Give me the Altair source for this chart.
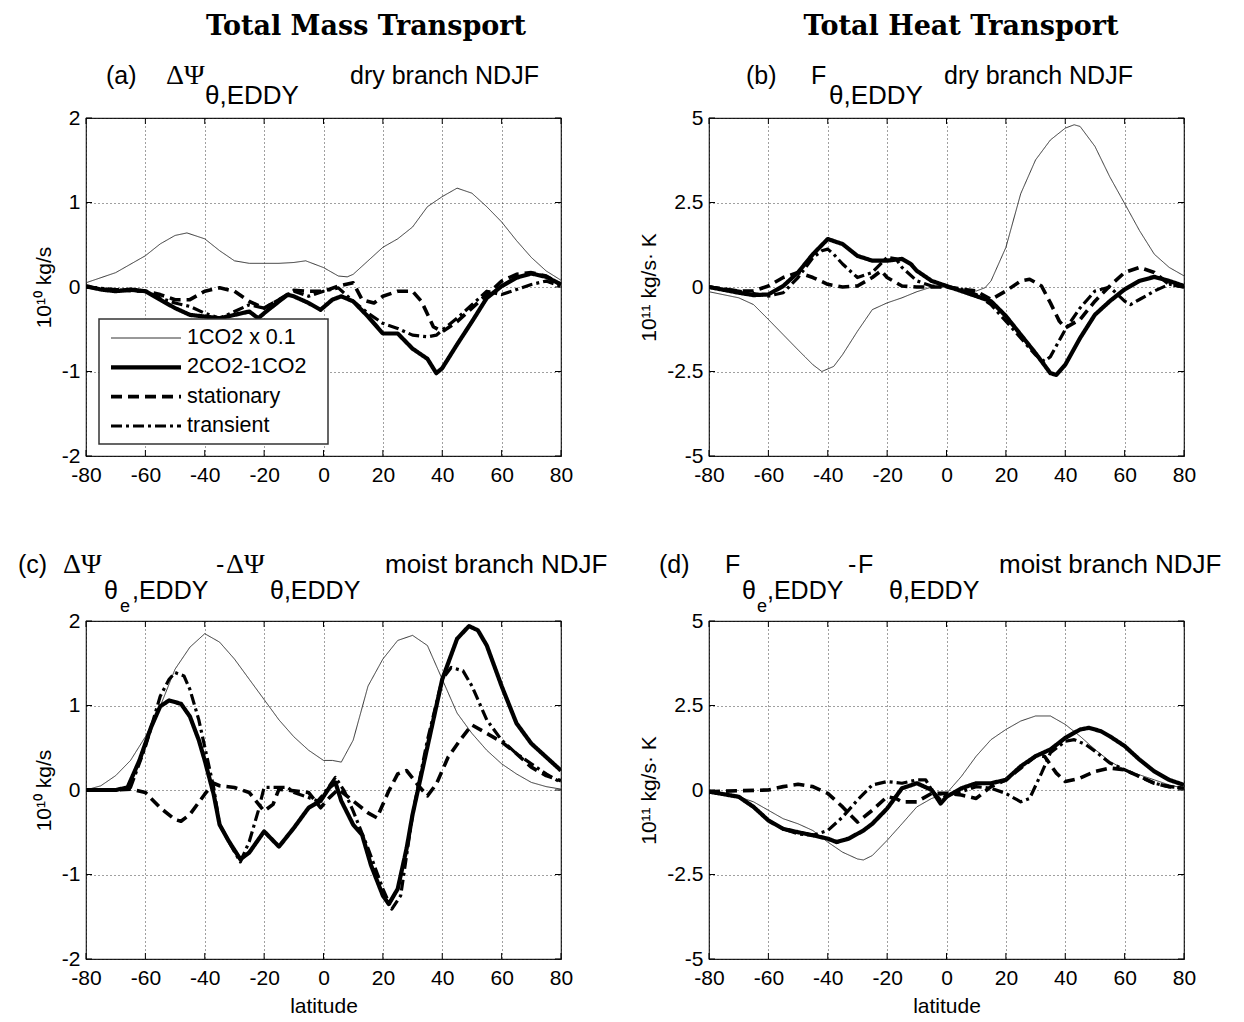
import altair as alt
import pandas as pd

W, H = 475, 338
SERIES = ["1CO2 x 0.1", "2CO2-1CO2", "stationary", "transient"]
XTICKS = [-80, -60, -40, -20, 0, 20, 40, 60, 80]
YT_MASS = [-2, -1, 0, 1, 2]
YT_HEAT = [-5, -2.5, 0, 2.5, 5]

# ---------------- panel (a) ----------------
a_thin_lat = [-80,-70,-60,-55,-50,-46,-40,-35,-30,-25,-20,-15,-10,-6,0,5,8,10,15,20,25,30,35,40,45,50,55,60,65,70,75,80]
a_thin = [0.05,0.17,0.37,0.51,0.61,0.64,0.57,0.43,0.31,0.28,0.28,0.28,0.29,0.31,0.23,0.13,0.12,0.15,0.31,0.47,0.57,0.71,0.95,1.07,1.17,1.11,0.95,0.77,0.55,0.35,0.19,0.08]
a_tot_lat = [-80,-75,-70,-65,-60,-55,-50,-45,-40,-35,-30,-25,-22,-20,-15,-12,-10,-5,-1,3,6,10,15,20,25,30,35,38,40,45,50,55,60,65,70,75,80]
a_tot = [0.01,-0.03,-0.05,-0.03,-0.05,-0.15,-0.25,-0.33,-0.35,-0.37,-0.33,-0.29,-0.37,-0.31,-0.17,-0.09,-0.11,-0.19,-0.27,-0.15,-0.11,-0.17,-0.35,-0.55,-0.55,-0.73,-0.85,-1.02,-0.96,-0.68,-0.41,-0.13,0.01,0.11,0.16,0.12,0.03]
a_sta_lat = [-80,-70,-60,-55,-50,-45,-40,-35,-30,-25,-20,-15,-10,-5,0,5,10,13,17,20,25,30,33,37,40,45,50,55,60,65,70,75,80]
a_sta = [0,-0.04,-0.05,-0.09,-0.15,-0.15,-0.05,-0.01,-0.05,-0.17,-0.25,-0.15,-0.04,-0.05,-0.05,0.01,0.05,-0.15,-0.19,-0.11,-0.05,-0.05,-0.17,-0.47,-0.53,-0.41,-0.25,-0.09,0.07,0.15,0.17,0.13,0.03]
a_tra_lat = [-80,-70,-60,-55,-50,-45,-40,-35,-30,-25,-20,-15,-10,-5,0,5,10,15,20,25,30,35,38,40,45,50,55,60,65,70,75,80]
a_tra = [0,-0.03,-0.05,-0.13,-0.19,-0.23,-0.31,-0.37,-0.29,-0.21,-0.25,-0.15,-0.05,-0.11,-0.05,-0.01,-0.17,-0.31,-0.43,-0.49,-0.57,-0.59,-0.57,-0.51,-0.37,-0.21,-0.05,-0.09,-0.03,0.03,0.07,0.01]

# ---------------- panel (b) ----------------
b_thin_lat = [-80,-70,-65,-60,-55,-50,-45,-42,-38,-35,-30,-25,-20,-15,-10,-5,0,5,10,13,15,20,25,30,35,40,43,45,50,55,60,65,70,75,80]
b_thin = [-0.14,-0.32,-0.52,-0.96,-1.41,-1.86,-2.3,-2.5,-2.35,-2.0,-1.31,-0.67,-0.47,-0.32,-0.14,0,0,-0.07,-0.12,-0.02,0.18,1.17,2.76,3.76,4.35,4.7,4.8,4.75,4.16,3.26,2.47,1.67,0.97,0.58,0.33]
b_tot_lat = [-80,-70,-65,-60,-55,-50,-45,-40,-35,-30,-25,-20,-15,-12,-10,-5,0,5,10,15,20,25,30,35,37,40,45,50,55,60,65,70,75,80]
b_tot = [0,-0.17,-0.24,-0.22,0.03,0.43,0.97,1.42,1.27,0.92,0.78,0.78,0.83,0.68,0.48,0.18,0.03,-0.12,-0.27,-0.42,-0.86,-1.41,-1.96,-2.55,-2.6,-2.3,-1.51,-0.82,-0.42,-0.07,0.18,0.3,0.18,0.03]
b_sta_lat = [-80,-70,-65,-60,-55,-50,-45,-40,-35,-30,-25,-22,-20,-15,-10,0,10,15,20,25,28,32,35,38,40,45,50,55,60,65,70,75,80]
b_sta = [0,-0.12,-0.12,0.03,0.28,0.43,0.28,0.08,0,0.03,0.28,0.48,0.28,0.03,0,0,-0.12,-0.37,-0.12,0.18,0.23,0.03,-0.47,-1.01,-1.21,-0.96,-0.42,0.03,0.43,0.58,0.43,0.08,0]
b_tra_lat = [-80,-70,-60,-55,-50,-45,-42,-40,-38,-35,-30,-25,-20,-17,-15,-10,-5,0,5,10,15,20,25,30,33,35,40,45,50,55,60,62,65,70,75,80]
b_tra = [0,-0.12,-0.27,-0.17,0.28,0.87,1.07,1.12,0.97,0.68,0.28,0.43,0.88,0.83,0.58,0.18,0.03,0,-0.07,-0.22,-0.52,-1.01,-1.51,-2.01,-2.2,-2.06,-1.26,-0.62,-0.12,0,-0.42,-0.52,-0.37,-0.12,0.08,0]

# ---------------- panel (c) ----------------
c_thin_lat = [-80,-75,-70,-65,-60,-55,-50,-45,-40,-35,-30,-25,-20,-15,-10,-5,0,3,6,10,15,20,25,30,35,40,45,50,55,60,65,70,75,80]
c_thin = [0,0.05,0.17,0.35,0.63,0.99,1.43,1.69,1.85,1.75,1.55,1.31,1.07,0.83,0.63,0.47,0.35,0.35,0.33,0.59,1.23,1.55,1.77,1.83,1.71,1.31,0.91,0.67,0.47,0.31,0.19,0.09,0.04,0.01]
c_tot_lat = [-80,-70,-66,-62,-58,-55,-52,-48,-45,-42,-40,-37,-35,-32,-28,-25,-20,-15,-10,-5,-1,2,4,6,10,13,16,20,22,25,28,30,35,40,45,49,52,55,60,65,70,75,80]
c_tot = [0,0,0.03,0.35,0.75,0.99,1.06,1.02,0.87,0.59,0.35,-0.05,-0.41,-0.6,-0.82,-0.74,-0.49,-0.67,-0.45,-0.21,-0.13,0.03,0.09,-0.13,-0.41,-0.53,-0.89,-1.25,-1.35,-1.17,-0.69,-0.29,0.51,1.31,1.79,1.94,1.89,1.71,1.23,0.79,0.55,0.39,0.23]
c_sta_lat = [-80,-70,-65,-60,-55,-50,-48,-45,-40,-37,-35,-30,-25,-20,-17,-15,-10,-5,-1,2,5,10,15,18,22,25,28,32,35,38,42,46,50,55,60,65,70,75,80]
c_sta = [0,0,0.01,-0.03,-0.21,-0.35,-0.37,-0.29,-0.05,0.08,0.05,0.03,-0.03,-0.25,-0.17,0.01,-0.01,-0.03,-0.21,-0.09,0.01,-0.13,-0.27,-0.33,-0.01,0.19,0.23,0.05,-0.07,0.07,0.39,0.59,0.77,0.67,0.57,0.43,0.27,0.17,0.11]
c_tra_lat = [-80,-70,-65,-60,-55,-52,-50,-47,-45,-42,-40,-37,-35,-30,-28,-25,-22,-20,-15,-12,-10,-5,-2,0,4,7,10,15,20,23,26,30,35,40,43,47,50,55,60,65,70,75,80]
c_tra = [0,0,0.03,0.51,1.11,1.31,1.39,1.35,1.19,0.83,0.51,0.03,-0.41,-0.73,-0.85,-0.61,-0.25,0.03,0.03,0.03,-0.03,-0.09,-0.13,-0.05,0.15,-0.01,-0.25,-0.69,-1.17,-1.41,-1.25,-0.29,0.59,1.31,1.45,1.41,1.23,0.83,0.59,0.43,0.31,0.19,0.09]

# ---------------- panel (d) ----------------
d_thin_lat = [-80,-70,-65,-60,-55,-50,-45,-40,-35,-30,-28,-25,-20,-15,-10,-5,0,5,10,15,20,25,30,35,40,45,50,55,60,65,70,75,80]
d_thin = [-0.08,-0.2,-0.35,-0.6,-0.85,-1.0,-1.2,-1.54,-1.84,-2.04,-2.07,-1.94,-1.49,-1.0,-0.5,-0.25,-0.1,0.4,1.0,1.49,1.79,2.04,2.19,2.19,1.94,1.59,1.2,0.85,0.6,0.45,0.3,0.15,0.05]
d_tot_lat = [-80,-70,-65,-60,-55,-50,-45,-40,-37,-33,-28,-25,-20,-15,-10,-5,-2,0,5,10,15,20,25,30,35,40,45,48,52,55,60,65,70,75,80]
d_tot = [-0.05,-0.2,-0.5,-0.9,-1.15,-1.25,-1.34,-1.44,-1.54,-1.44,-1.2,-1.0,-0.55,0.05,0.2,0,-0.4,-0.2,0.05,0.2,0.2,0.3,0.7,1.0,1.2,1.54,1.79,1.84,1.74,1.59,1.3,0.9,0.55,0.3,0.15]
d_sta_lat = [-80,-70,-60,-55,-50,-45,-40,-35,-30,-25,-20,-17,-15,-10,-5,0,5,10,15,20,25,30,33,37,40,45,50,55,60,65,70,75,80]
d_sta = [-0.05,-0.02,0,0.1,0.17,0.1,-0.1,-0.5,-0.95,-0.6,-0.2,-0.25,-0.35,-0.35,-0.1,-0.1,-0.15,-0.25,0.1,0.3,0.65,1.0,1.0,0.5,0.25,0.35,0.55,0.65,0.6,0.4,0.2,0.1,0.05]
d_tra_lat = [-80,-70,-65,-60,-55,-50,-45,-40,-35,-30,-25,-20,-15,-10,-7,-5,-2,0,5,10,15,20,25,28,32,35,40,43,47,50,55,60,65,70,75,80]
d_tra = [-0.05,-0.2,-0.5,-0.9,-1.15,-1.3,-1.34,-1.2,-0.8,-0.3,0.15,0.25,0.2,0.3,0.3,0,-0.3,-0.15,-0.05,0.1,0.05,-0.1,-0.35,-0.25,0.5,1.1,1.44,1.49,1.34,1.15,0.8,0.6,0.4,0.2,0.1,0.05]

SANS = "Liberation Sans"
SERIF = "Liberation Serif"

color_scale = alt.Scale(domain=SERIES, range=["#333333", "black", "black", "black"])
dash_scale = alt.Scale(domain=SERIES, range=[[1, 0], [1, 0], [11, 6], [11, 4, 3, 4]])
width_scale = alt.Scale(type="ordinal", domain=SERIES, range=[1.0, 4.2, 3.6, 3.2])


def long_df(pairs):
    rows = []
    for name, lats, vals in pairs:
        for la, v in zip(lats, vals):
            rows.append({"lat": la, "val": v, "series": name})
    return pd.DataFrame(rows)


def seg(text, x, y, size=25, font=SANS, weight="normal", align="left"):
    return alt.Chart(pd.DataFrame({"t": [text]})).mark_text(
        font=font, fontSize=size, fontWeight=weight, align=align,
        baseline="alphabetic", color="black"
    ).encode(x=alt.value(x), y=alt.value(y), text="t:N")


def panel(df, ydom, yticks, ytitle, xtitle, texts, legend=False):
    xenc = alt.X("lat:Q", scale=alt.Scale(domain=[-80, 80], nice=False, zero=False),
                 axis=alt.Axis(values=XTICKS, title=xtitle, labelExpr="'' + datum.value"))
    yenc = alt.Y("val:Q", scale=alt.Scale(domain=ydom, nice=False, zero=False),
                 axis=alt.Axis(values=yticks, title=ytitle, labelExpr="'' + datum.value"))
    lines = alt.Chart(df).mark_line(clip=True, strokeCap="butt", strokeJoin="round").encode(
        x=xenc, y=yenc,
        color=alt.Color("series:N", scale=color_scale, legend=None),
        strokeDash=alt.StrokeDash("series:N", scale=dash_scale, legend=None),
        strokeWidth=alt.StrokeWidth("series:N", scale=width_scale, legend=None),
    )
    xt = pd.DataFrame({"lat": XTICKS})
    yt = pd.DataFrame({"val": yticks})
    tk = dict(color="black", strokeWidth=1)
    ticks = [
        alt.Chart(xt).mark_rule(**tk).encode(x=xenc, y=alt.value(H), y2=alt.value(H - 6)),
        alt.Chart(xt).mark_rule(**tk).encode(x=xenc, y=alt.value(0), y2=alt.value(6)),
        alt.Chart(yt).mark_rule(**tk).encode(y=yenc, x=alt.value(0), x2=alt.value(6)),
        alt.Chart(yt).mark_rule(**tk).encode(y=yenc, x=alt.value(W), x2=alt.value(W - 6)),
    ]
    inner = alt.layer(lines, *ticks, *[seg(*t) for t in texts])
    if legend:
        ldf = pd.DataFrame({"series": SERIES, "row": list(range(len(SERIES)))})
        ly = alt.Y("row:Q", scale=alt.Scale(domain=[0, len(SERIES) - 1], range=[220, 308],
                                            nice=False, zero=False), axis=None)
        box = alt.Chart(pd.DataFrame({"b": [0]})).mark_rect(
            fill="white", stroke="#333", strokeWidth=1.5
        ).encode(x=alt.value(13), x2=alt.value(242), y=alt.value(201), y2=alt.value(326))
        lrule = alt.Chart(ldf).mark_rule(strokeCap="butt").encode(
            x=alt.value(25), x2=alt.value(95), y=ly,
            color=alt.Color("series:N", scale=color_scale, legend=None),
            strokeDash=alt.StrokeDash("series:N", scale=dash_scale, legend=None),
            strokeWidth=alt.StrokeWidth("series:N", scale=width_scale, legend=None),
        )
        ltext = alt.Chart(ldf).mark_text(align="left", baseline="middle", font=SANS,
                                         fontSize=21.5, color="black").encode(
            x=alt.value(101), y=ly, text="series:N")
        leg = alt.layer(box, lrule, ltext)
        ch = alt.layer(inner, leg).resolve_scale(y="independent")
    else:
        ch = inner
    return ch.properties(width=W, height=H)


df_a = long_df([(SERIES[0], a_thin_lat, a_thin), (SERIES[1], a_tot_lat, a_tot),
                (SERIES[2], a_sta_lat, a_sta), (SERIES[3], a_tra_lat, a_tra)])
df_b = long_df([(SERIES[0], b_thin_lat, b_thin), (SERIES[1], b_tot_lat, b_tot),
                (SERIES[2], b_sta_lat, b_sta), (SERIES[3], b_tra_lat, b_tra)])
df_c = long_df([(SERIES[0], c_thin_lat, c_thin), (SERIES[1], c_tot_lat, c_tot),
                (SERIES[2], c_sta_lat, c_sta), (SERIES[3], c_tra_lat, c_tra)])
df_d = long_df([(SERIES[0], d_thin_lat, d_thin), (SERIES[1], d_tot_lat, d_tot),
                (SERIES[2], d_sta_lat, d_sta), (SERIES[3], d_tra_lat, d_tra)])

HEAD = 27
texts_a = [
    ("Total Mass Transport", 280, -83, HEAD, "DejaVu Serif", "bold", "center"),
    ("(a)", 20, -34),
    ("ΔΨ", 80, -34, 28, SERIF),
    ("θ,EDDY", 119, -14, 26),
    ("dry branch NDJF", 264, -34),
]
texts_b = [
    ("Total Heat Transport", 252, -83, HEAD, "DejaVu Serif", "bold", "center"),
    ("(b)", 37, -34),
    ("F", 102, -34),
    ("θ,EDDY", 120, -14, 26),
    ("dry branch NDJF", 235, -34),
]
texts_c = [
    ("(c)", -68, -48),
    ("ΔΨ", -23, -48, 28, SERIF),
    ("θ", 18, -22),
    ("e", 34, -9, 18),
    (",EDDY", 46, -22),
    ("-", 130, -48),
    ("ΔΨ", 140, -48, 28, SERIF),
    ("θ,EDDY", 184, -22),
    ("moist branch NDJF", 299, -48, 26),
]
texts_d = [
    ("(d)", -50, -48),
    ("F", 16, -48),
    ("θ", 33, -22),
    ("e", 48, -9, 18),
    (",EDDY", 58, -22),
    ("-", 139, -48),
    ("F", 149, -48),
    ("θ,EDDY", 180, -22),
    ("moist branch NDJF", 290, -48, 26),
]

pa = panel(df_a, [-2, 2], YT_MASS, "10¹⁰ kg/s", None, texts_a, legend=True)
pb = panel(df_b, [-5, 5], YT_HEAT, "10¹¹ kg/s· K", None, texts_b)
pc = panel(df_c, [-2, 2], YT_MASS, "10¹⁰ kg/s", "latitude", texts_c)
pd_ = panel(df_d, [-5, 5], YT_HEAT, "10¹¹ kg/s· K", "latitude", texts_d)

chart = alt.concat(pa, pb, pc, pd_, columns=2, spacing={"row": 165, "column": 148},
                   bounds="flush").properties(
    padding={"left": 9, "top": 4, "right": 0, "bottom": 0},
    background="white"
).configure_view(
    stroke="#222", strokeWidth=1.2
).configure_axis(
    domain=False, ticks=False, tickSize=0, grid=True, labelFlush=False,
    gridDash=[1, 3], gridColor="#000", gridOpacity=0.75, gridWidth=1,
    labelFont=SANS, labelFontSize=21, labelColor="black", labelPadding=8,
    titleFont=SANS, titleFontSize=21, titleColor="black", titleFontWeight="normal",
    titlePadding=7
).configure_axisY(labelPadding=6)

chart.save("out.html", embed_options={"renderer": "svg", "actions": False})
